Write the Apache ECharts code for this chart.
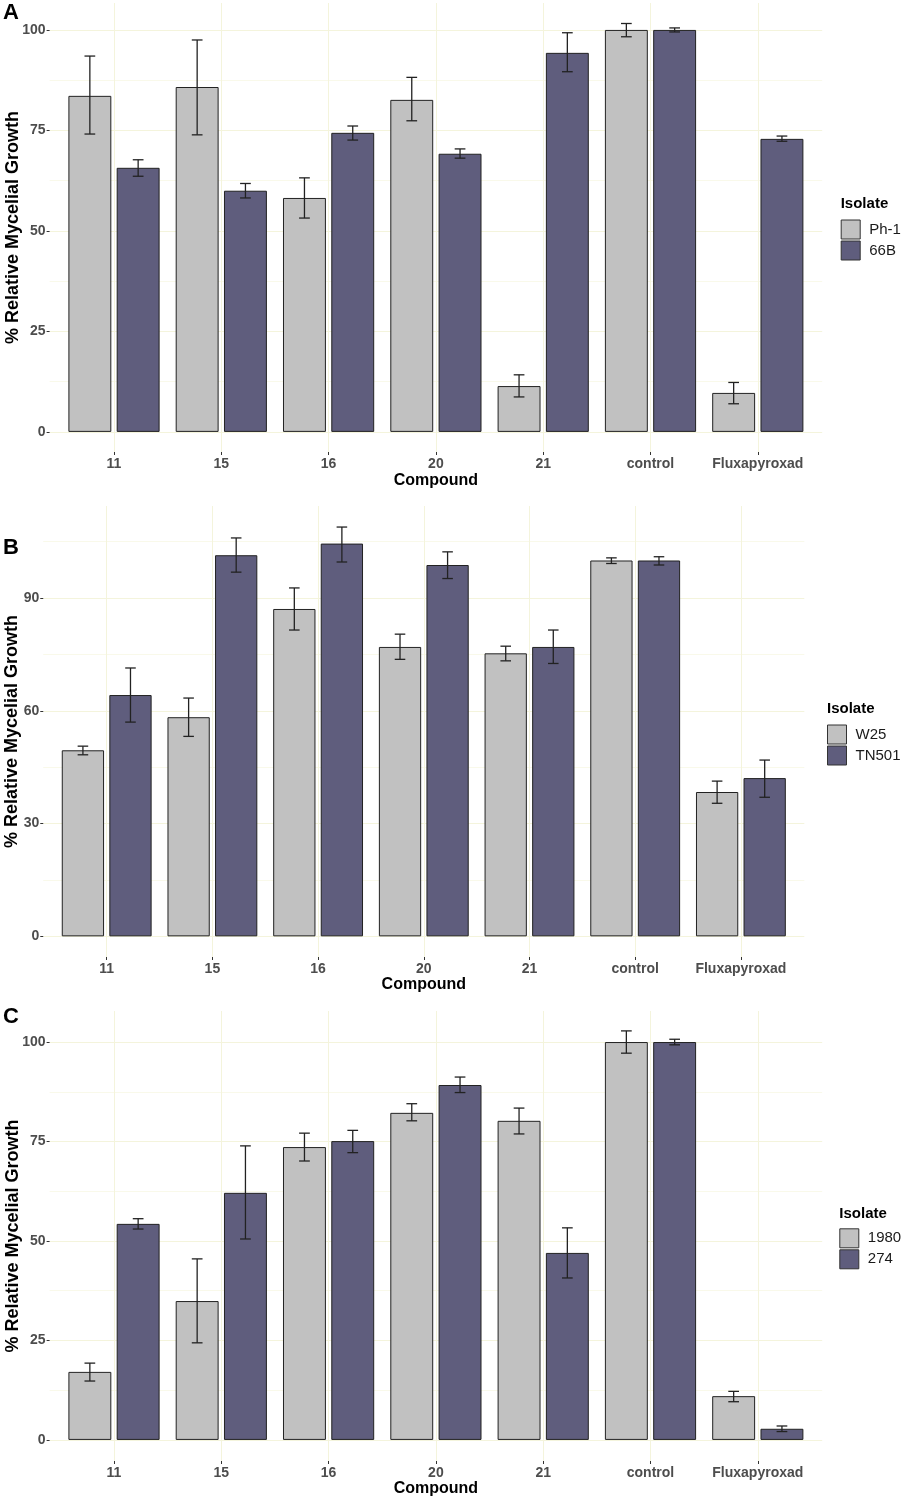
<!DOCTYPE html>
<html><head><meta charset="utf-8">
<script src="https://cdn.jsdelivr.net/npm/echarts@6/dist/echarts.min.js"></script>
<style>html,body{margin:0;padding:0;background:#fff}#c{width:905px;height:1500px}</style>
</head><body><div id="c"></div>
<script>
// ---------- DATA ----------
const compounds = ['11', '15', '16', '20', '21', 'control', 'Fluxapyroxad'];

// Panel A
const isolatesA = ['Ph-1', '66B'];
const meanA1 = [83.6, 85.8, 58.2, 82.6, 11.4, 100, 9.7];
const lowA1  = [74.1, 73.9, 53.2, 77.4, 8.7, 98.3, 7.0];
const highA1 = [93.5, 97.5, 63.2, 88.2, 14.2, 101.6, 12.3];
const meanA2 = [65.7, 60.0, 74.4, 69.2, 94.3, 100, 72.9];
const lowA2  = [63.6, 58.2, 72.6, 68.1, 89.6, 99.5, 72.3];
const highA2 = [67.7, 61.8, 76.1, 70.4, 99.3, 100.5, 73.6];
const ticksA = [0, 25, 50, 75, 100];
const minorA = [12.5, 37.5, 62.5, 87.5];

// Panel B
const isolatesB = ['W25', 'TN501'];
const meanB1 = [49.5, 58.3, 87.1, 77.0, 75.3, 100, 38.4];
const lowB1  = [48.3, 53.2, 81.5, 73.7, 73.3, 99.2, 35.4];
const highB1 = [50.6, 63.4, 92.7, 80.4, 77.2, 100.7, 41.3];
const meanB2 = [64.2, 101.4, 104.5, 98.8, 77.0, 100, 42.1];
const lowB2  = [57.0, 96.9, 99.6, 95.2, 72.6, 98.8, 37.0];
const highB2 = [71.4, 106.0, 108.9, 102.3, 81.5, 101.0, 46.9];
const ticksB = [0, 30, 60, 90];
const minorB = [15, 45, 75, 105];

// Panel C
const isolatesC = ['1980', '274'];
const meanC1 = [17.1, 34.9, 73.6, 82.2, 80.2, 100, 11.0];
const lowC1  = [14.8, 24.4, 70.1, 80.2, 76.9, 97.2, 9.6];
const highC1 = [19.3, 45.5, 77.1, 84.5, 83.4, 102.8, 12.2];
const meanC2 = [54.3, 62.1, 75.1, 89.2, 47.0, 100, 2.8];
const lowC2  = [53.0, 50.5, 72.2, 87.3, 40.7, 99.3, 2.1];
const highC2 = [55.6, 73.9, 77.8, 91.2, 53.3, 100.7, 3.5];
const ticksC = [0, 25, 50, 75, 100];
const minorC = [12.5, 37.5, 62.5, 87.5];

const legendTitle = 'Isolate';
const xTitle = 'Compound';
const yTitle = '% Relative Mycelial Growth';

// ---------- LAYOUT ----------
const LIGHT = '#c1c1c1', DARK = '#5f5d7d', EDGE = '#222222';
const GRID_MAJOR = '#f4f4dc', GRID_MINOR = '#f9f9ea';

const panels = [
  { letter: 'A', letterY: 14, top: 3, height: 449, ymin: -5, ymax: 106.7, ticks: ticksA, minor: minorA,
    c0: 114, band: 107.3, isolates: isolatesA, means: [meanA1, meanA2], lows: [lowA1, lowA2], highs: [highA1, highA2],
    legX: 840.7, legTitleY: 205, legTop: 219.5, yGap: 28, xGap: 21 },
  { letter: 'B', letterY: 549, top: 506, height: 451, ymin: -5.5, ymax: 114.5, ticks: ticksB, minor: minorB,
    c0: 106.7, band: 105.7, isolates: isolatesB, means: [meanB1, meanB2], lows: [lowB1, lowB2], highs: [highB1, highB2],
    legX: 827, legTitleY: 710.7, legTop: 724.5, yGap: 22, xGap: 20 },
  { letter: 'C', letterY: 1018, top: 1011, height: 450, ymin: -5.3, ymax: 107.8, ticks: ticksC, minor: minorC,
    c0: 114, band: 107.3, isolates: isolatesC, means: [meanC1, meanC2], lows: [lowC1, lowC2], highs: [highC1, highC2],
    legX: 839.3, legTitleY: 1215, legTop: 1228.3, yGap: 28, xGap: 20 }
];

const option = {
  animation: false,
  backgroundColor: '#ffffff',
  textStyle: { fontFamily: 'Liberation Sans, Arial, sans-serif' },
  grid: [], xAxis: [], yAxis: [], series: [], legend: [], graphic: []
};

const catIdx = compounds.map((_, i) => i);
const font = 'Liberation Sans, Arial, sans-serif';

panels.forEach((p) => {
  const panelLeft = p.c0 - 0.6 * p.band;
  const panelWidth = 7.2 * p.band;
  const barLeft = p.c0 - 0.5 * p.band;
  const barWidth = 7 * p.band;

  const gBg = option.grid.length;
  option.grid.push({ left: panelLeft, width: panelWidth, top: p.top, height: p.height,
    containLabel: false, outerBoundsMode: 'none' });
  const gBar = option.grid.length;
  option.grid.push({ left: barLeft, width: barWidth, top: p.top, height: p.height,
    containLabel: false, outerBoundsMode: 'none' });

  // background x (vertical grid lines at category centres)
  option.xAxis.push({
    type: 'value', gridIndex: gBg, min: -0.6, max: 6.6,
    axisLine: { show: false, onZero: false }, axisTick: { show: false, customValues: catIdx },
    axisLabel: { show: false, customValues: catIdx },
    splitLine: { show: true, lineStyle: { color: GRID_MAJOR, width: 1 } }
  });
  // background y major
  option.yAxis.push({
    type: 'value', gridIndex: gBg, min: p.ymin, max: p.ymax,
    axisLine: { show: false, onZero: false },
    axisTick: { show: true, customValues: p.ticks, length: 3, lineStyle: { color: '#333', width: 1 } },
    axisLabel: { customValues: p.ticks, margin: 4, fontSize: 14, fontWeight: 'bold', color: '#4d4d4d', fontFamily: font },
    splitLine: { show: true, lineStyle: { color: GRID_MAJOR, width: 1 } },
    name: yTitle, nameLocation: 'middle', nameRotate: 90, nameGap: p.yGap, nameMoveOverlap: false,
    nameTextStyle: { fontSize: 18, fontWeight: 'bold', color: '#000', fontFamily: font }
  });
  // background y minor
  option.yAxis.push({
    type: 'value', gridIndex: gBg, min: p.ymin, max: p.ymax,
    axisLine: { show: false, onZero: false }, axisTick: { show: false, customValues: p.minor },
    axisLabel: { show: false, customValues: p.minor },
    splitLine: { show: true, lineStyle: { color: GRID_MINOR, width: 1 } }
  });
  // bar axes
  const xBar = option.xAxis.length;
  option.xAxis.push({
    type: 'category', gridIndex: gBar, data: compounds,
    axisLine: { show: false, onZero: false },
    axisTick: { show: true, alignWithLabel: true, length: 3, lineStyle: { color: '#333', width: 1 } },
    axisLabel: { margin: 5, fontSize: 14, fontWeight: 'bold', color: '#4d4d4d', fontFamily: font, interval: 0 },
    splitLine: { show: false },
    name: xTitle, nameLocation: 'middle', nameGap: p.xGap,
    nameTextStyle: { fontSize: 16, fontWeight: 'bold', color: '#000', fontFamily: font }
  });
  const yBar = option.yAxis.length;
  option.yAxis.push({ type: 'value', gridIndex: gBar, min: p.ymin, max: p.ymax, show: false,
    axisLine: { onZero: false }, splitLine: { show: false } });

  const colors = [LIGHT, DARK];
  [0, 1].forEach((s) => {
    option.series.push({
      type: 'bar', name: p.isolates[s], xAxisIndex: xBar, yAxisIndex: yBar,
      data: p.means[s], barWidth: '40%', barGap: '12.5%', z: 2,
      itemStyle: { color: colors[s], borderColor: EDGE, borderWidth: 1 }
    });
  });
  [0, 1].forEach((s) => {
    const side = s === 0 ? -1 : 1;
    option.series.push({
      type: 'custom', xAxisIndex: xBar, yAxisIndex: yBar, z: 3, silent: true,
      data: compounds.map((_, i) => [i, p.lows[s][i], p.highs[s][i]]),
      encode: { x: 0, y: [1, 2] },
      renderItem: function (params, api) {
        const i = api.value(0);
        const band = api.size([1, 0])[0];
        const x = api.coord([i, 0])[0] + side * 0.225 * band;
        const yl = api.coord([i, api.value(1)])[1];
        const yh = api.coord([i, api.value(2)])[1];
        const cap = 0.05 * band;
        const st = { stroke: EDGE, lineWidth: 1.3 };
        return { type: 'group', children: [
          { type: 'line', shape: { x1: x, y1: yh, x2: x, y2: yl }, style: st },
          { type: 'line', shape: { x1: x - cap, y1: yh, x2: x + cap, y2: yh }, style: st },
          { type: 'line', shape: { x1: x - cap, y1: yl, x2: x + cap, y2: yl }, style: st }
        ]};
      }
    });
  });

  option.legend.push({
    orient: 'vertical', left: p.legX, top: p.legTop, padding: 0,
    itemWidth: 19, itemHeight: 19, itemGap: 1, icon: 'rect', selectedMode: false,
    data: p.isolates,
    itemStyle: { borderColor: '#333', borderWidth: 1 },
    textStyle: { fontSize: 15, color: '#1a1a1a', fontFamily: font, padding: [0, 0, 0, 4] }
  });

  option.graphic.push({
    type: 'text', left: p.legX, top: p.legTitleY - 9,
    style: { text: legendTitle, font: 'bold 15px ' + font, fill: '#000' }
  });
  option.graphic.push({
    type: 'text', left: 3, top: p.letterY - 12,
    style: { text: p.letter, font: 'bold 22px ' + font, fill: '#000' }
  });
});

const chart = echarts.init(document.getElementById('c'), null, { renderer: 'canvas' });
chart.setOption(option);
</script>
</body></html>
